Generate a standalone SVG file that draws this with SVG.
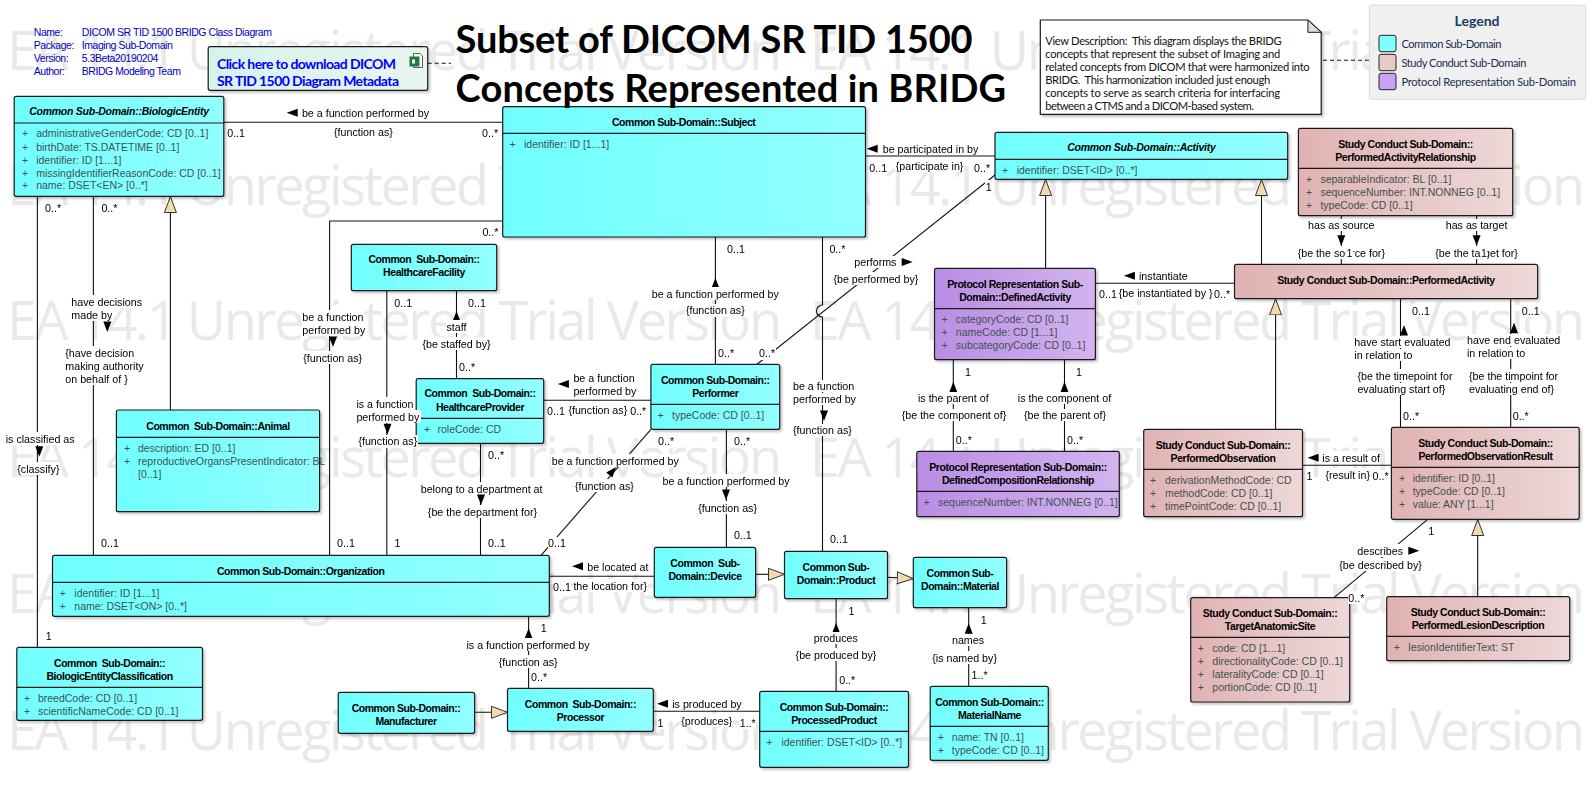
<svg xmlns="http://www.w3.org/2000/svg" width="1596" height="797" viewBox="0 0 1596 797">
<style>
text{font-family:"Liberation Sans",Arial,sans-serif;dominant-baseline:central;white-space:pre}
.wm{font-family:"Open Sans","Liberation Sans",sans-serif;font-size:54px;fill:#e9e9e9;dominant-baseline:auto}
.t{font-size:10.5px;font-weight:bold;text-anchor:middle;fill:#000;letter-spacing:-.45px}
.ti{font-style:italic;font-size:10.5px;letter-spacing:-.25px}
.a{font-size:10.5px;fill:#3f5252}
.l{font-size:10.7px;fill:#000;filter:url(#bg)}
.m{text-anchor:middle}
.meta{font-size:10.5px;fill:#0000c0;letter-spacing:-.45px}
.cal{font-family:Lato,"Liberation Sans",sans-serif}
.n{font-size:11.2px;fill:#111}
.lg{font-size:11.2px;fill:#1b2f55}
.b{stroke:#1a1a1a;stroke-width:1.2}
.c{fill:url(#gc)}.r{fill:url(#gr)}.p{fill:url(#gp)}
.c,.r,.p,.s{filter:url(#sh)}
.d{stroke:#111;stroke-width:1.1;fill:none}
.da{stroke:#111;stroke-width:1.1;stroke-dasharray:4 3;fill:none}
.g{stroke:#111;stroke-width:1.1;fill:none;marker-end:url(#mg)}
</style>
<defs>
<linearGradient id="gc"><stop offset="0" stop-color="#70ffff"/><stop offset="1" stop-color="#92ffff"/></linearGradient>
<linearGradient id="gr"><stop offset="0" stop-color="#e0b2b2"/><stop offset="1" stop-color="#eed8d8"/></linearGradient>
<linearGradient id="gp"><stop offset="0" stop-color="#b98de4"/><stop offset="1" stop-color="#d2b4ee"/></linearGradient>
<linearGradient id="gl"><stop offset="0" stop-color="#d6f3ea"/><stop offset="1" stop-color="#e8f5f0"/></linearGradient>
<filter id="sh" x="-5%" y="-5%" width="112%" height="115%" color-interpolation-filters="sRGB"><feDropShadow dx="2" dy="2" stdDeviation="1" flood-color="#000" flood-opacity="0.22"/></filter>
<filter id="bg" x="0" y="0" width="1" height="1" color-interpolation-filters="sRGB"><feFlood flood-color="#fff"/><feComposite in="SourceGraphic"/></filter>
<marker id="mg" markerUnits="userSpaceOnUse" markerWidth="18" markerHeight="14" refX="16.5" refY="7" orient="auto"><path d="M0.5,1 L16.5,7 L0.5,13z" fill="#f5d9b0" stroke="#333"/></marker>
<path id="up" d="M0,0 L4,10.5 L-4,10.5z" fill="#000"/>
<path id="dn" d="M0,0 L4,-10.5 L-4,-10.5z" fill="#000"/>
<path id="lf" d="M0,0 L11,-4 L11,4z" fill="#000"/>
<path id="rt" d="M0,0 L-11,-4 L-11,4z" fill="#000"/>
</defs>
<rect width="1596" height="797" fill="#fff"/>
<g id="watermark">
<text class="wm" x="7" y="70" textLength="775">EA 14.1 Unregistered Trial Version</text><text class="wm" x="810" y="70" textLength="775">EA 14.1 Unregistered Trial Version</text>
<text class="wm" x="7" y="205" textLength="775">EA 14.1 Unregistered Trial Version</text><text class="wm" x="810" y="205" textLength="775">EA 14.1 Unregistered Trial Version</text>
<text class="wm" x="7" y="340" textLength="775">EA 14.1 Unregistered Trial Version</text><text class="wm" x="810" y="340" textLength="775">EA 14.1 Unregistered Trial Version</text>
<text class="wm" x="7" y="477" textLength="775">EA 14.1 Unregistered Trial Version</text><text class="wm" x="810" y="477" textLength="775">EA 14.1 Unregistered Trial Version</text>
<text class="wm" x="7" y="613" textLength="775">EA 14.1 Unregistered Trial Version</text><text class="wm" x="810" y="613" textLength="775">EA 14.1 Unregistered Trial Version</text>
<text class="wm" x="7" y="750" textLength="775">EA 14.1 Unregistered Trial Version</text><text class="wm" x="810" y="750" textLength="775">EA 14.1 Unregistered Trial Version</text>
</g>
<g id="metadata">
<text class="meta" x="33.8" y="31.7">Name:</text><text class="meta" x="81.8" y="31.7">DICOM SR TID 1500 BRIDG Class Diagram</text>
<text class="meta" x="33.8" y="44.7">Package:</text><text class="meta" x="81.8" y="44.7">Imaging Sub-Domain</text>
<text class="meta" x="33.8" y="57.7">Version:</text><text class="meta" x="81.8" y="57.7">5.3Beta20190204</text>
<text class="meta" x="33.8" y="70.7">Author:</text><text class="meta" x="81.8" y="70.7">BRIDG Modeling Team</text>
</g>
<g id="connectors">
<path class="d" d="M223.8,122.3H502.7"/>
<path class="d" d="M502.7,221H329.6V555.3"/>
<path class="d" d="M37.4,196.3V647.3"/>
<path class="d" d="M93.4,196.3V555.3"/>
<path class="g" d="M170.4,410V196.5"/>
<path class="d" d="M386.8,290.7V555.3"/>
<path class="d" d="M456.5,290.7V378.7"/>
<path class="d" d="M480.5,443.3V555.3"/>
<path class="d" d="M543.7,400.3H650.9"/>
<path class="d" d="M715.4,237V364.3"/>
<path class="d" d="M726.4,429.3V547.3"/>
<path class="d" d="M651,429.3L541,555.3"/>
<path class="d" d="M822.5,237V305A6,6 0 0 0 822.5,317V551.3"/>
<path class="d" d="M995,175L757,364.3"/>
<path class="d" d="M865.5,156H995"/>
<path class="d" d="M549.3,576.3H654.3"/>
<path class="d" d="M528.6,616.3V688.3"/>
<path class="g" d="M755.6,574.3H784.5"/>
<path class="g" d="M887.5,577.3L913.3,578.7"/>
<path class="g" d="M474.6,712.3H507.5"/>
<path class="d" d="M836.1,598.7V691.3"/>
<path class="d" d="M968.7,607.7V686.3"/>
<path class="d" d="M653.3,711.3H759.7"/>
<path class="g" d="M1045.6,268.3V179.5"/>
<path class="g" d="M1261.5,264.3V179.5"/>
<path class="d" d="M1341.3,215.7V264.3"/>
<path class="d" d="M1476.6,215.7V264.3"/>
<path class="d" d="M1095.4,283.3H1234.5"/>
<path class="g" d="M1275.6,429.3V298.9"/>
<path class="d" d="M1400.5,298.7V427.3"/>
<path class="d" d="M1510.7,298.7V427.3"/>
<path class="d" d="M953.3,359.7V451.3"/>
<path class="d" d="M1064.5,359.7V451.3"/>
<path class="d" d="M1302.5,465.3H1391.4"/>
<path class="d" d="M1427.7,519.3L1334,597.7"/>
<path class="g" d="M1477.7,596.7V519.5"/>
<path class="da" d="M427.7,63.3H451"/>
<path class="da" d="M1323,60.3H1369.4"/>
</g>
<g id="BiologicEntity"><rect class="c b" x="14.2" y="96.3" width="209.6" height="100" rx="2"/><path class="b" d="M14.2,123H223.8"/><text class="t ti" x="119" y="110.7">Common Sub-Domain::BiologicEntity</text>
<text class="a" x="22" y="133.3">+</text><text class="a" x="36.2" y="133.3">administrativeGenderCode: CD [0..1]</text>
<text class="a" x="22" y="146.7">+</text><text class="a" x="36.2" y="146.7">birthDate: TS.DATETIME [0..1]</text>
<text class="a" x="22" y="159.7">+</text><text class="a" x="36.2" y="159.7">identifier: ID [1...1]</text>
<text class="a" x="22" y="172.7">+</text><text class="a" x="36.2" y="172.7">missingIdentifierReasonCode: CD [0..1]</text>
<text class="a" x="22" y="185.3">+</text><text class="a" x="36.2" y="185.3">name: DSET&lt;EN&gt; [0..*]</text></g>
<g id="Subject"><rect class="c b" x="502.7" y="106.7" width="362.8" height="130.3" rx="2"/><path class="b" d="M502.7,133.3H865.5"/><text class="t" x="683.7" y="121.7">Common Sub-Domain::Subject</text>
<text class="a" x="509.6" y="143.7">+</text><text class="a" x="524" y="143.7">identifier: ID [1...1]</text></g>
<g id="Activity"><rect class="c b" x="995" y="132.3" width="292.7" height="47" rx="2"/><path class="b" d="M995,159.3H1287.7"/><text class="t ti" x="1141.4" y="146.7">Common Sub-Domain::Activity</text>
<text class="a" x="1002" y="170">+</text><text class="a" x="1016.7" y="170">identifier: DSET&lt;ID&gt; [0..*]</text></g>
<g id="PerformedActivityRelationship"><rect class="r b" x="1298.4" y="128.3" width="214.3" height="87.4" rx="2"/><path class="b" d="M1298.4,168.3H1512.7"/><text class="t" x="1405.5" y="143.7">Study Conduct Sub-Domain::</text><text class="t" x="1405.5" y="156.7">PerformedActivityRelationship</text>
<text class="a" x="1306" y="179">+</text><text class="a" x="1320.4" y="179">separableIndicator: BL [0..1]</text>
<text class="a" x="1306" y="191.7">+</text><text class="a" x="1320.4" y="191.7">sequenceNumber: INT.NONNEG [0..1]</text>
<text class="a" x="1306" y="204.7">+</text><text class="a" x="1320.4" y="204.7">typeCode: CD [0..1]</text></g>
<g id="PerformedActivity"><rect class="r b" x="1234.5" y="264.3" width="303.1" height="34.4" rx="2"/><text class="t" x="1386" y="279.7">Study Conduct Sub-Domain::PerformedActivity</text></g>
<g id="HealthcareFacility"><rect class="c b" x="351.3" y="244.3" width="145.4" height="46.4" rx="2"/><text class="t" x="424" y="259.3">Common  Sub-Domain::</text><text class="t" x="424" y="272.3">HealthcareFacility</text></g>
<g id="HealthcareProvider"><rect class="c b" x="416.2" y="378.7" width="127.5" height="64.6" rx="2"/><path class="b" d="M416.2,418.3H543.7"/><text class="t" x="480" y="393.3">Common  Sub-Domain::</text><text class="t" x="480" y="406.7">HealthcareProvider</text>
<text class="a" x="424" y="428.7">+</text><text class="a" x="437.5" y="428.7">roleCode: CD</text></g>
<g id="Performer"><rect class="c b" x="650.9" y="364.3" width="128.8" height="65" rx="2"/><path class="b" d="M650.9,404.3H779.7"/><text class="t" x="715.3" y="379.7">Common Sub-Domain::</text><text class="t" x="715.3" y="392.7">Performer</text>
<text class="a" x="657.6" y="414.7">+</text><text class="a" x="672" y="414.7">typeCode: CD [0..1]</text></g>
<g id="Animal"><rect class="c b" x="116.4" y="410" width="203.2" height="101.7" rx="2"/><path class="b" d="M116.4,437.3H319.6"/><text class="t" x="218" y="425.7">Common  Sub-Domain::Animal</text>
<text class="a" x="124" y="447.7">+</text><text class="a" x="138" y="447.7">description: ED [0..1]</text>
<text class="a" x="124" y="460.7">+</text><text class="a" x="138" y="460.7">reproductiveOrgansPresentIndicator: BL</text><text class="a" x="138" y="473.7">[0..1]</text></g>
<g id="Organization"><rect class="c b" x="52.5" y="555.3" width="496.8" height="61" rx="2"/><path class="b" d="M52.5,582.3H549.3"/><text class="t" x="300.7" y="570.7">Common Sub-Domain::Organization</text>
<text class="a" x="59.6" y="592.7">+</text><text class="a" x="74.3" y="592.7">identifier: ID [1...1]</text>
<text class="a" x="59.6" y="605.7">+</text><text class="a" x="74.3" y="605.7">name: DSET&lt;ON&gt; [0..*]</text></g>
<g id="BiologicEntityClassification"><rect class="c b" x="16.8" y="647.3" width="185.7" height="73" rx="2"/><path class="b" d="M16.8,687.3H202.5"/><text class="t" x="109.6" y="662.7">Common  Sub-Domain::</text><text class="t" x="109.6" y="675.7">BiologicEntityClassification</text>
<text class="a" x="24" y="697.7">+</text><text class="a" x="37.9" y="697.7">breedCode: CD [0..1]</text>
<text class="a" x="24" y="710.7">+</text><text class="a" x="37.9" y="710.7">scientificNameCode: CD [0..1]</text></g>
<g id="Manufacturer"><rect class="c b" x="338.2" y="692.3" width="136.4" height="41" rx="2"/><text class="t" x="406" y="707.7">Common Sub-Domain::</text><text class="t" x="406" y="720.7">Manufacturer</text></g>
<g id="Processor"><rect class="c b" x="507.5" y="688.3" width="145.8" height="43" rx="2"/><text class="t" x="580.4" y="703.7">Common  Sub-Domain::</text><text class="t" x="580.4" y="716.7">Processor</text></g>
<g id="Device"><rect class="c b" x="654.3" y="547.3" width="101.3" height="50" rx="2"/><text class="t" x="705" y="562.7">Common  Sub-</text><text class="t" x="705" y="575.7">Domain::Device</text></g>
<g id="Product"><rect class="c b" x="784.5" y="551.3" width="103" height="47.4" rx="2"/><text class="t" x="836" y="566.7">Common Sub-</text><text class="t" x="836" y="579.7">Domain::Product</text></g>
<g id="Material"><rect class="c b" x="913.3" y="557.3" width="93.3" height="50.4" rx="2"/><text class="t" x="960" y="572.7">Common Sub-</text><text class="t" x="960" y="585.7">Domain::Material</text></g>
<g id="ProcessedProduct"><rect class="c b" x="759.7" y="691.3" width="148.8" height="76" rx="2"/><path class="b" d="M759.7,731.3H908.5"/><text class="t" x="834" y="706.7">Common Sub-Domain::</text><text class="t" x="834" y="719.7">ProcessedProduct</text>
<text class="a" x="766.2" y="741.7">+</text><text class="a" x="781.4" y="741.7">identifier: DSET&lt;ID&gt; [0..*]</text></g>
<g id="MaterialName"><rect class="c b" x="930.2" y="686.3" width="118.1" height="74" rx="2"/><path class="b" d="M930.2,726.3H1048.3"/><text class="t" x="989.5" y="701.7">Common Sub-Domain::</text><text class="t" x="989.5" y="714.7">MaterialName</text>
<text class="a" x="937.7" y="736.7">+</text><text class="a" x="951.8" y="736.7">name: TN [0..1]</text>
<text class="a" x="937.7" y="749.7">+</text><text class="a" x="951.8" y="749.7">typeCode: CD [0..1]</text></g>
<g id="DefinedActivity"><rect class="p b" x="934.5" y="268.3" width="160.9" height="91.4" rx="2"/><path class="b" d="M934.5,308.7H1095.4"/><text class="t" x="1015" y="283.7">Protocol Representation Sub-</text><text class="t" x="1015" y="296.7">Domain::DefinedActivity</text>
<text class="a" x="941.6" y="318.7">+</text><text class="a" x="955.8" y="318.7">categoryCode: CD [0..1]</text>
<text class="a" x="941.6" y="331.7">+</text><text class="a" x="955.8" y="331.7">nameCode: CD [1...1]</text>
<text class="a" x="941.6" y="344.7">+</text><text class="a" x="955.8" y="344.7">subcategoryCode: CD [0..1]</text></g>
<g id="DefinedCompositionRelationship"><rect class="p b" x="916.8" y="451.3" width="202.5" height="65.4" rx="2"/><path class="b" d="M916.8,491.3H1119.3"/><text class="t" x="1018" y="466.7">Protocol Representation Sub-Domain::</text><text class="t" x="1018" y="479.7">DefinedCompositionRelationship</text>
<text class="a" x="923.4" y="501.7">+</text><text class="a" x="938" y="501.7">sequenceNumber: INT.NONNEG [0..1]</text></g>
<g id="PerformedObservation"><rect class="r b" x="1143.7" y="429.3" width="158.8" height="87.4" rx="2"/><path class="b" d="M1143.7,469.3H1302.5"/><text class="t" x="1223" y="444.7">Study Conduct Sub-Domain::</text><text class="t" x="1223" y="457.7">PerformedObservation</text>
<text class="a" x="1150" y="479.7">+</text><text class="a" x="1165" y="479.7">derivationMethodCode: CD</text>
<text class="a" x="1150" y="492.7">+</text><text class="a" x="1165" y="492.7">methodCode: CD [0..1]</text>
<text class="a" x="1150" y="505.7">+</text><text class="a" x="1165" y="505.7">timePointCode: CD [0..1]</text></g>
<g id="PerformedObservationResult"><rect class="r b" x="1391.4" y="427.3" width="187.8" height="92" rx="2"/><path class="b" d="M1391.4,467.3H1579.2"/><text class="t" x="1485.5" y="442.7">Study Conduct Sub-Domain::</text><text class="t" x="1485.5" y="455.7">PerformedObservationResult</text>
<text class="a" x="1399" y="477.7">+</text><text class="a" x="1412.7" y="477.7">identifier: ID [0..1]</text>
<text class="a" x="1399" y="490.7">+</text><text class="a" x="1412.7" y="490.7">typeCode: CD [0..1]</text>
<text class="a" x="1399" y="503.7">+</text><text class="a" x="1412.7" y="503.7">value: ANY [1...1]</text></g>
<g id="TargetAnatomicSite"><rect class="r b" x="1190.7" y="597.7" width="159" height="104.3" rx="2"/><path class="b" d="M1190.7,637.3H1349.7"/><text class="t" x="1270" y="612.7">Study Conduct Sub-Domain::</text><text class="t" x="1270" y="625.7">TargetAnatomicSite</text>
<text class="a" x="1197.7" y="647.7">+</text><text class="a" x="1212.3" y="647.7">code: CD [1...1]</text>
<text class="a" x="1197.7" y="660.7">+</text><text class="a" x="1212.3" y="660.7">directionalityCode: CD [0..1]</text>
<text class="a" x="1197.7" y="673.7">+</text><text class="a" x="1212.3" y="673.7">lateralityCode: CD [0..1]</text>
<text class="a" x="1197.7" y="686.7">+</text><text class="a" x="1212.3" y="686.7">portionCode: CD [0..1]</text></g>
<g id="PerformedLesionDescription"><rect class="r b" x="1386.7" y="596.7" width="183" height="64" rx="2"/><path class="b" d="M1386.7,636.3H1569.7"/><text class="t" x="1478" y="611.7">Study Conduct Sub-Domain::</text><text class="t" x="1478" y="624.7">PerformedLesionDescription</text>
<text class="a" x="1393.7" y="646.7">+</text><text class="a" x="1408.3" y="646.7">lesionIdentifierText: ST</text></g>
<g id="DownloadLink"><rect class="s b" x="208.2" y="46.7" width="219.5" height="43.6" rx="2" fill="url(#gl)"/>
<text class="cal" x="217" y="63.3" font-size="14" font-weight="bold" fill="#0000ff" textLength="179">Click here to download DICOM</text>
<text class="cal" x="217" y="80.3" font-size="14" font-weight="bold" fill="#0000ff" textLength="182">SR TID 1500 Diagram Metadata</text>
<path d="M413.5,53.5H420L422.5,56V67.5H413.5z" fill="#fff" stroke="#333" stroke-width=".8"/><rect x="409.5" y="56.5" width="10" height="10" fill="#1e7a3c"/><rect x="412" y="59.5" width="3" height="4" fill="#fff"/></g>
<g id="ViewDescription"><path class="s" d="M1040.3,20H1307.9L1321.2,32.3V114.3H1040.3z" fill="#fff" stroke="#1a1a1a" stroke-width="1.2"/><path d="M1307.9,20V32.3H1321.2z" fill="#ddd" stroke="#1a1a1a"/>
<text class="cal n" x="1045.2" y="40.7" textLength="236.4">View Description:  This diagram displays the BRIDG</text>
<text class="cal n" x="1045.2" y="53.7" textLength="235">concepts that represent the subset of Imaging and</text>
<text class="cal n" x="1045.2" y="66.7" textLength="264.5">related concepts from DICOM that were harmonized into</text>
<text class="cal n" x="1045.2" y="79.7" textLength="225">BRIDG.  This harmonization included just enough</text>
<text class="cal n" x="1045.2" y="92.7" textLength="235">concepts to serve as search criteria for interfacing</text>
<text class="cal n" x="1045.2" y="105.7" textLength="208.7">between a CTMS and a DICOM-based system.</text></g>
<g id="Legend"><rect x="1369.4" y="5" width="216.3" height="94.3" rx="2" fill="#f0f0f0" stroke="#dcdcdc"/>
<text class="cal" x="1477" y="20" font-size="14" font-weight="bold" text-anchor="middle" fill="#1b3a66">Legend</text>
<rect x="1379" y="35.3" width="17" height="16.4" rx="2" fill="#7fffff" stroke="#222"/><text class="cal lg" x="1401.4" y="43.7" textLength="100">Common Sub-Domain</text>
<rect x="1379" y="54.3" width="17" height="16.4" rx="2" fill="#e8c8c8" stroke="#222"/><text class="cal lg" x="1401.4" y="62.7" textLength="125">Study Conduct Sub-Domain</text>
<rect x="1379" y="73.3" width="17" height="16.4" rx="2" fill="#c9a0f5" stroke="#222"/><text class="cal lg" x="1401.4" y="81.7" textLength="174.5">Protocol Representation Sub-Domain</text></g>
<g id="title"><text class="cal" x="455.6" y="37.5" font-size="38" font-weight="bold" fill="#000" textLength="517">Subset of DICOM SR TID 1500</text><text class="cal" x="455.6" y="86.5" font-size="38" font-weight="bold" fill="#000" textLength="550.4">Concepts Represented in BRIDG</text></g>
<g id="connector-labels">
<use href="#lf" x="286.7" y="112.7"/><text class="l" x="301.9" y="112.7">be a function performed by</text><text class="l" x="334" y="131.7">{function as}</text><text class="l" x="227.2" y="133.3">0..1</text><text class="l" x="482" y="133.3">0..*</text>
<text class="l" x="482.4" y="232.3">0..*</text>
<text class="l" x="45" y="208.3">0..*</text><text class="l" x="101.4" y="208.3">0..*</text>
<text class="l" x="71.3" y="301.7">have decisions</text><text class="l" x="71.3" y="314.7">made by</text><use href="#dn" x="107.3" y="332"/>
<text class="l" x="65.3" y="352.7">{have decision</text><text class="l" x="65.3" y="365.7">making authority</text><text class="l" x="65.3" y="378.7">on behalf of }</text>
<text class="l" x="5.7" y="438.7">is classified as</text><use href="#dn" x="39.3" y="456.7"/><text class="l" x="17.3" y="468.7">{classify}</text>
<text class="l" x="45.7" y="635.7">1</text>
<text class="l" x="101" y="543.3">0..1</text><text class="l" x="337" y="543.3">0..1</text><text class="l" x="394.6" y="543.3">1</text><text class="l" x="487.9" y="543.3">0..1</text><text class="l" x="548" y="543.3">0..1</text>
<text class="l" x="302.3" y="316.7">be a function</text><text class="l" x="302.3" y="329.7">performed by</text><use href="#dn" x="333" y="347"/><text class="l" x="303.3" y="357.7">{function as}</text>
<text class="l" x="394.3" y="302.7">0..1</text><text class="l" x="468" y="302.7">0..1</text>
<use href="#up" x="456.5" y="311"/><text class="l m" x="456.5" y="326.7">staff</text><text class="l m" x="456.5" y="343.7">{be staffed by}</text><text class="l" x="459" y="367.3">0..*</text>
<text class="l" x="356.4" y="403.7">is a function</text><text class="l" x="356.4" y="416.7">performed by</text><use href="#dn" x="387.5" y="434.3"/><text class="l" x="358.4" y="441.3">{function as}</text>
<text class="l" x="488" y="455.3">0..*</text><text class="l m" x="481.6" y="488.7">belong to a department at</text><use href="#dn" x="481" y="505"/><text class="l m" x="482.5" y="511.7">{be the department for}</text>
<use href="#lf" x="557.9" y="384"/><text class="l" x="573.4" y="377.7">be a function</text><text class="l" x="573.4" y="390.7">performed by</text>
<text class="l" x="547" y="411.3">0..1</text><text class="l" x="568.4" y="409.7">{function as}</text><text class="l" x="630.2" y="411">0..*</text>
<text class="l" x="727" y="249.3">0..1</text><use href="#up" x="715.4" y="277.7"/><text class="l m" x="715.3" y="293.7">be a function performed by</text><text class="l m" x="715.3" y="310.3">{function as}</text>
<text class="l" x="718" y="353.3">0..*</text><text class="l" x="759" y="353.3">0..*</text>
<text class="l" x="658" y="441.3">0..*</text><text class="l" x="734" y="441.3">0..*</text>
<text class="l m" x="615.3" y="460.7">be a function performed by</text><use href="#up" transform="translate(616,467) rotate(40)"/><text class="l m" x="604.4" y="485.7">{function as}</text>
<text class="l m" x="726.1" y="480.7">be a function performed by</text><use href="#dn" x="726" y="500"/><text class="l m" x="727.6" y="507.7">{function as}</text>
<text class="l" x="733.9" y="535.3">0..1</text><text class="l" x="830" y="539.3">0..1</text>
<text class="l" x="829.4" y="249.3">0..*</text>
<text class="l" x="854.3" y="262">performs</text><use href="#rt" x="912.7" y="262"/><text class="l m" x="875.9" y="278.7">{be performed by}</text>
<text class="l" x="793" y="386">be a function</text><text class="l" x="793" y="399">performed by</text><use href="#dn" x="824" y="421"/><text class="l" x="793" y="430">{function as}</text>
<use href="#lf" x="866.7" y="148.7"/><text class="l" x="882.7" y="148.7">be participated in by</text><text class="l" x="869.3" y="167.7">0..1</text><text class="l" x="895.7" y="165.7">{participate in}</text><text class="l" x="974" y="167.7">0..*</text><text class="l" x="985.7" y="186.7">1</text>
<use href="#lf" x="572" y="566.3"/><text class="l" x="587.2" y="566.7">be located at</text><text class="l" x="573.4" y="585.7">the location for}</text><text class="l" x="553" y="587.3">0..1</text>
<use href="#up" x="528.6" y="628.3"/><text class="l" x="540.7" y="628.3">1</text><text class="l m" x="528" y="644.7">is a function performed by</text><text class="l m" x="528.2" y="661.7">{function as}</text><text class="l" x="531" y="677.3">0..*</text>
<text class="l" x="848.5" y="610.7">1</text><use href="#up" x="836.1" y="622.7"/><text class="l m" x="835.8" y="638">produces</text><text class="l m" x="836" y="654.7">{be produced by}</text><text class="l" x="839.2" y="680.3">0..*</text>
<text class="l" x="980.8" y="619.7">1</text><use href="#up" x="968.7" y="623.3"/><text class="l m" x="968" y="640">names</text><text class="l m" x="964.6" y="657.7">{is named by}</text><text class="l" x="971.5" y="675.3">1..*</text>
<use href="#lf" x="657" y="703.7"/><text class="l" x="672.2" y="703.7">is produced by</text><text class="l" x="657.4" y="722.7">1</text><text class="l" x="681.2" y="720.7">{produces}</text><text class="l" x="739.7" y="722.7">1..*</text>
<text class="l m" x="1341.3" y="225">has as source</text><use href="#dn" x="1341.3" y="245.7"/><text class="l m" x="1341.3" y="252.7">{be the source for}</text><text class="l" x="1346.5" y="252.7">1</text>
<text class="l m" x="1476.6" y="225">has as target</text><use href="#dn" x="1476.6" y="245.7"/><text class="l m" x="1476.6" y="252.7">{be the target for}</text><text class="l" x="1481" y="252.7">1</text>
<use href="#lf" x="1123.9" y="275.7"/><text class="l" x="1139" y="275.7">instantiate</text><text class="l" x="1099" y="294.3">0..1</text><text class="l" x="1118.8" y="292.7">{be instantiated by }</text><text class="l" x="1214" y="294.3">0..*</text>
<text class="l" x="1412" y="310.7">0..1</text><text class="l" x="1521.8" y="310.7">0..1</text>
<use href="#up" x="1404" y="325"/><text class="l" x="1354.3" y="342">have start evaluated</text><text class="l" x="1354.3" y="355">in relation to</text><text class="l" x="1357.4" y="375.7">{be the timepoint for</text><text class="l" x="1357.4" y="389">evaluating start of}</text>
<use href="#up" x="1514" y="322.7"/><text class="l" x="1467" y="340">have end evaluated</text><text class="l" x="1467" y="353">in relation to</text><text class="l" x="1469" y="375.7">{be the timpoint for</text><text class="l" x="1469" y="389">evaluating end of}</text>
<text class="l" x="1403" y="416">0..*</text><text class="l" x="1512.7" y="416">0..*</text>
<text class="l" x="965" y="371.7">1</text><text class="l" x="1076" y="371.7">1</text><use href="#up" x="953.3" y="381.7"/><use href="#up" x="1064.5" y="381.7"/>
<text class="l m" x="953.3" y="398">is the parent of</text><text class="l m" x="954" y="415">{be the component of}</text><text class="l m" x="1064.5" y="398">is the component of</text><text class="l m" x="1065" y="415">{be the parent of}</text>
<text class="l" x="955.8" y="440.3">0..*</text><text class="l" x="1067" y="440.3">0..*</text>
<use href="#lf" x="1307.6" y="457.7"/><text class="l" x="1322.3" y="457.7">is a result of</text><text class="l" x="1306.6" y="476.3">1</text><text class="l" x="1325.4" y="474.7">{result in}</text><text class="l" x="1372.6" y="476">0..*</text>
<text class="l" x="1428.3" y="530.7">1</text><text class="l" x="1357.3" y="550.7">describes</text><use href="#rt" x="1419.3" y="550.7"/><text class="l" x="1339.3" y="564.7">{be described by}</text><text class="l" x="1348.3" y="597.7">0..*</text>
</g>
</svg>
